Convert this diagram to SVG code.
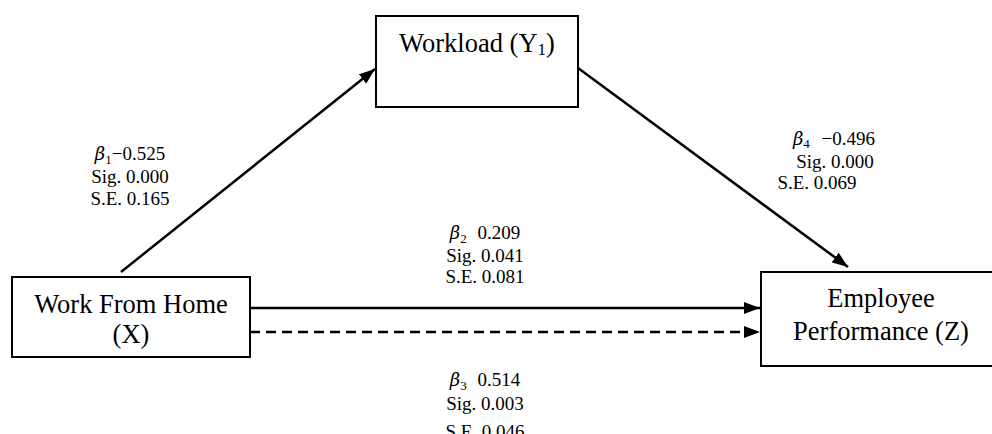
<svg xmlns="http://www.w3.org/2000/svg" width="992" height="434" viewBox="0 0 992 434">
  <style>
    .box { fill: #ffffff; stroke: #000000; stroke-width: 2; }
    .node { font-family: "Liberation Serif", "Times New Roman", serif; font-size: 26.5px; fill: #000000; text-anchor: middle; }
    .lbl { font-family: "Liberation Serif", "Times New Roman", serif; font-size: 19px; fill: #000000; text-anchor: middle; }
    .beta { font-style: italic; font-family: "DejaVu Serif", "Liberation Serif", serif; font-size: 18px; }
    .sub { font-size: 13px; }
    .edge { fill: none; stroke: #000000; stroke-width: 2.5; }
    .dash { stroke-dasharray: 10 6; }
  </style>
  <defs>
    <marker id="arrow" viewBox="0 0 16 12" refX="16" refY="6" markerWidth="16" markerHeight="12" markerUnits="userSpaceOnUse" orient="auto">
      <path d="M0,0 L16,6 L0,12 Z" fill="#000000"/>
    </marker>
  </defs>

  <rect width="992" height="434" fill="#ffffff"/>

  <!-- connectors -->
  <g id="connectors">
    <line class="edge" x1="121" y1="272" x2="375" y2="69" marker-end="url(#arrow)"/>
    <line class="edge" x1="578" y1="68" x2="848" y2="267" marker-end="url(#arrow)"/>
    <line class="edge" x1="250" y1="308" x2="760" y2="308" marker-end="url(#arrow)"/>
    <line class="edge dash" x1="250" y1="332" x2="760" y2="332" marker-end="url(#arrow)"/>
  </g>

  <!-- nodes -->
  <g id="workload">
    <rect class="box" x="376" y="16" width="202" height="91"/>
    <text class="node" x="477" y="52">Workload (Y<tspan font-size="17" dy="3">1</tspan><tspan dy="-3">)</tspan></text>
  </g>
  <g id="work-from-home">
    <rect class="box" x="12" y="277" width="238" height="80"/>
    <text class="node" x="131" y="313">Work From Home</text>
    <text class="node" x="131" y="343">(X)</text>
  </g>
  <g id="employee-performance">
    <rect class="box" x="761" y="272" width="240" height="94"/>
    <text class="node" x="881" y="307">Employee</text>
    <text class="node" x="881" y="340">Performance (Z)</text>
  </g>

  <!-- path coefficients -->
  <g id="label-b1">
    <text class="lbl" x="130" y="160"><tspan class="beta">β</tspan><tspan class="sub" dy="4">1</tspan><tspan dy="-4">−0.525</tspan></text>
    <text class="lbl" x="130" y="183">Sig. 0.000</text>
    <text class="lbl" x="130" y="205">S.E. 0.165</text>
  </g>
  <g id="label-b4">
    <text class="lbl" x="834" y="145"><tspan class="beta">β</tspan><tspan class="sub" dy="3">4</tspan><tspan dy="-3" dx="7"> −0.496</tspan></text>
    <text class="lbl" x="835" y="168">Sig. 0.000</text>
    <text class="lbl" x="817" y="189">S.E. 0.069</text>
  </g>
  <g id="label-b2">
    <text class="lbl" x="485" y="239"><tspan class="beta">β</tspan><tspan class="sub" dy="4">2</tspan><tspan dy="-4" dx="6"> 0.209</tspan></text>
    <text class="lbl" x="485" y="262">Sig. 0.041</text>
    <text class="lbl" x="485" y="283">S.E. 0.081</text>
  </g>
  <g id="label-b3">
    <text class="lbl" x="485" y="386"><tspan class="beta">β</tspan><tspan class="sub" dy="4">3</tspan><tspan dy="-4" dx="6"> 0.514</tspan></text>
    <text class="lbl" x="485" y="410">Sig. 0.003</text>
    <text class="lbl" x="485" y="438">S.E. 0.046</text>
  </g>
</svg>
